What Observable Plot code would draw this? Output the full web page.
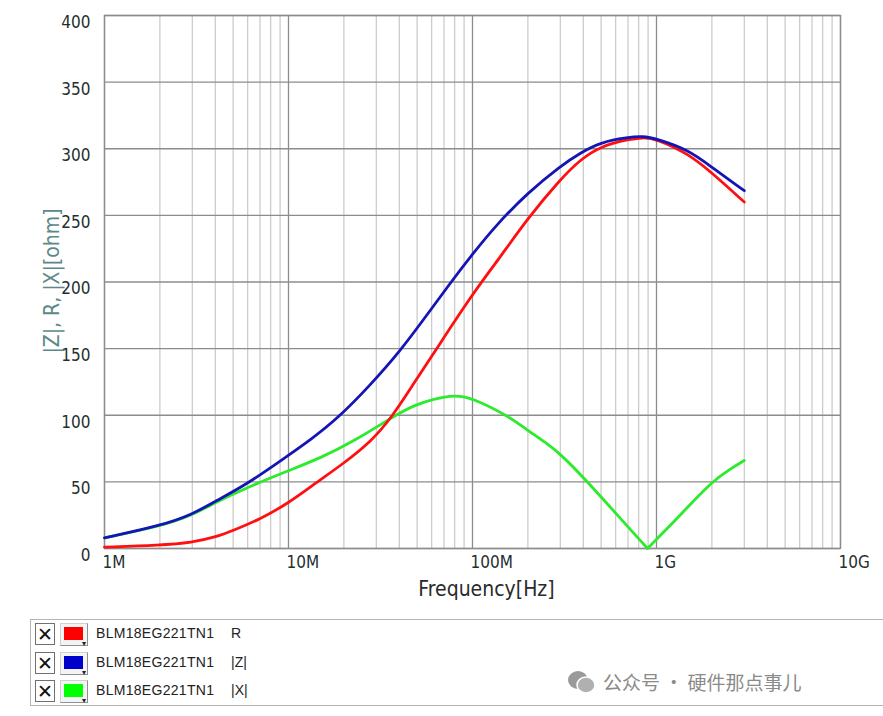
<!DOCTYPE html>
<html>
<head>
<meta charset="utf-8">
<script src="https://cdn.jsdelivr.net/npm/d3@7"></script>
<script src="https://cdn.jsdelivr.net/npm/@observablehq/plot@0.6"></script>
<style>
  html, body { margin: 0; padding: 0; background: #fff; }
  #wrap { position: relative; width: 883px; height: 716px; overflow: hidden; background: #fff; }
  #chart { position: absolute; left: 0; top: 0; }
  #legend { position: absolute; left: 30px; top: 619px; width: 870px; height: 85px; border: 1px solid #b4b4b4; background: #fff; font-family: "Liberation Sans", Arial, sans-serif; }
  .row { position: absolute; left: 0; height: 22px; width: 100%; }
  .chk { position: absolute; left: 4px; top: 0; width: 18px; height: 20px; border: 1px solid #707070; background: #fff; font: 19px/20px "DejaVu Sans", sans-serif; text-align: center; color: #111; }
  .sw { position: absolute; left: 29px; top: 0; width: 26px; height: 21px; border: 1px solid #d0d0d0; border-right-color: #909090; border-bottom-color: #909090; background: #f4f4f4; }
  .sw .c { position: absolute; left: 3px; top: 3px; width: 19px; height: 13px; }
  .sw .t { position: absolute; right: 1px; bottom: -3px; font-size: 8px; color: #222; }
  .lab { position: absolute; left: 65px; top: 2px; font-size: 14px; color: #222; letter-spacing: 0.3px; }
  .ser { position: absolute; left: 200px; top: 2px; font-size: 14px; color: #222; }
  #wm { position: absolute; left: 567px; top: 668px; font-family: "Noto Sans CJK SC", sans-serif; font-size: 19px; color: #8a8a8a; display: flex; align-items: center; gap: 6px; }
</style>
</head>
<body>
<div id="wrap">
  <div id="chart"></div>
  <div id="legend"></div>
  <div id="wm"><svg width="30" height="26" viewBox="0 0 30 26"><ellipse cx="11" cy="11" rx="10" ry="9" fill="#9a9a9a"/><ellipse cx="19" cy="16" rx="9" ry="8" fill="#b0b0b0" stroke="#fff" stroke-width="1.5"/></svg><span>公众号 · 硬件那点事儿</span></div>
</div>
<script>
// ---- data (frequency in MHz, impedance in ohm) ----
const freqR = [1, 2, 3, 4, 5, 7, 10, 14, 20, 28, 36.7, 48, 64.6, 100, 137, 200, 300, 386, 500, 700, 840, 1000, 1500, 2000, 3000];
const valR  = [1, 2.5, 4.5, 8.5, 13.5, 22, 34, 49, 64, 80, 99, 124, 151, 191, 216, 248, 277, 292, 302, 307, 308.5, 307.5, 296, 282, 260];

const freqZ = [1, 2, 3, 4, 6, 10, 13, 18.5, 28, 40.6, 55, 76, 100, 137, 200, 300, 386, 500, 700, 840, 1000, 1500, 2000, 3000];
const valZ  = [8, 17, 25.5, 35.5, 48.5, 70, 81, 97.5, 123, 148.5, 173, 199.5, 221, 244, 267, 287, 297, 305, 308.5, 309.5, 307.5, 299, 286, 268.5];

const freqX = [1, 2, 3, 4, 6, 10, 15, 23, 36.7, 48, 78, 100, 161, 200, 250, 300, 400, 600, 894, 1200, 1500, 2000, 2500, 3000];
const valX  = [8, 16.5, 25, 34.5, 46, 58.5, 68, 81, 98.5, 108, 116, 113, 98.5, 88.5, 79.5, 71, 53.5, 26.5, 0, 18, 32, 50, 59.5, 66];

const xTicks = [1, 10, 100, 1000, 10000];
const xTickLabels = ["1M", "10M", "100M", "1G", "10G"];
const yTicks = [0, 50, 100, 150, 200, 250, 300, 350, 400];

const seriesNames = ["R", "|Z|", "|X|"];
const seriesColors = ["#ff1010", "#1515b5", "#2cea2c"];
const swatchColors = ["#ff0000", "#0000cc", "#00ff00"];
const partName = "BLM18EG221TN1";

// ---- derived tables ----
const rows = (fs, vs) => fs.map((f, i) => ({f, v: vs[i]}));
const dataR = rows(freqR, valR);
const dataZ = rows(freqZ, valZ);
const minIdx = valX.indexOf(d3.min(valX));
const dataX = [];
freqX.forEach((f, i) => {
  if (i <= minIdx) dataX.push({f, v: valX[i], seg: 0});
  if (i >= minIdx) dataX.push({f, v: valX[i], seg: 1});
});
const minorTicks = [];
for (let d = 1; d < 10000; d *= 10) for (let k = 2; k <= 9; k++) minorTicks.push(d * k);

const font = '"Liberation Sans Narrow", "DejaVu Sans Condensed", "Arial Narrow", sans-serif';

const chart = Plot.plot({
  width: 883,
  height: 612,
  marginLeft: 104,
  marginRight: 43,
  marginTop: 15,
  marginBottom: 64,
  style: {fontFamily: font, fontSize: "17px", background: "transparent", overflow: "visible"},
  x: {type: "log", domain: [1, 10000]},
  y: {domain: [0, 400]},
  marks: [
    Plot.ruleX(minorTicks, {stroke: "#c8c8c8", strokeWidth: 1.2}),
    Plot.ruleX(xTicks, {stroke: "#8c8c8c", strokeWidth: 1.3}),
    Plot.ruleY(yTicks, {stroke: "#8c8c8c", strokeWidth: 1.3}),
    Plot.frame({stroke: "#8c8c8c", strokeWidth: 1.3}),
    Plot.axisY({ticks: yTicks, tickSize: 0, tickPadding: 14, dy: 7, fontSize: 17, fill: "#1f2f2f", label: null}),
    Plot.axisX({ticks: xTicks, tickSize: 0, tickPadding: 7, textAnchor: "start", dx: -2, fontSize: 17, fill: "#1f2f2f",
      tickFormat: d => xTickLabels[xTicks.indexOf(d)], label: null}),
    Plot.text(["Frequency[Hz]"], {frameAnchor: "bottom", textAnchor: "middle", dx: 14, dy: 47, fontSize: 21, fill: "#2a2a2a", fontFamily: '"DejaVu Sans Condensed", sans-serif'}),
    Plot.text(["|Z|, R, |X|[ohm]"], {frameAnchor: "left", textAnchor: "middle", rotate: -90, dx: -52, dy: -1, fontSize: 21, fill: "#5d8888", fontFamily: '"DejaVu Sans Condensed", sans-serif'}),
    Plot.line(dataX, {x: "f", y: "v", z: "seg", stroke: seriesColors[2], strokeWidth: 2.8, curve: "basis"}),
    Plot.line(dataR, {x: "f", y: "v", stroke: seriesColors[0], strokeWidth: 2.8, curve: "basis"}),
    Plot.line(dataZ, {x: "f", y: "v", stroke: seriesColors[1], strokeWidth: 2.8, curve: "basis"})
  ]
});
document.getElementById("chart").appendChild(chart);

// ---- legend ----
const legend = document.getElementById("legend");
const tops = [3, 32, 60];
seriesNames.forEach((name, i) => {
  const row = document.createElement("div");
  row.className = "row";
  row.style.top = tops[i] + "px";
  row.innerHTML = `<div class="chk">✕</div><div class="sw"><div class="c" style="background:${swatchColors[i]}"></div><div class="t">▾</div></div><span class="lab">${partName}</span><span class="ser">${name}</span>`;
  legend.appendChild(row);
});
</script>
</body>
</html>
